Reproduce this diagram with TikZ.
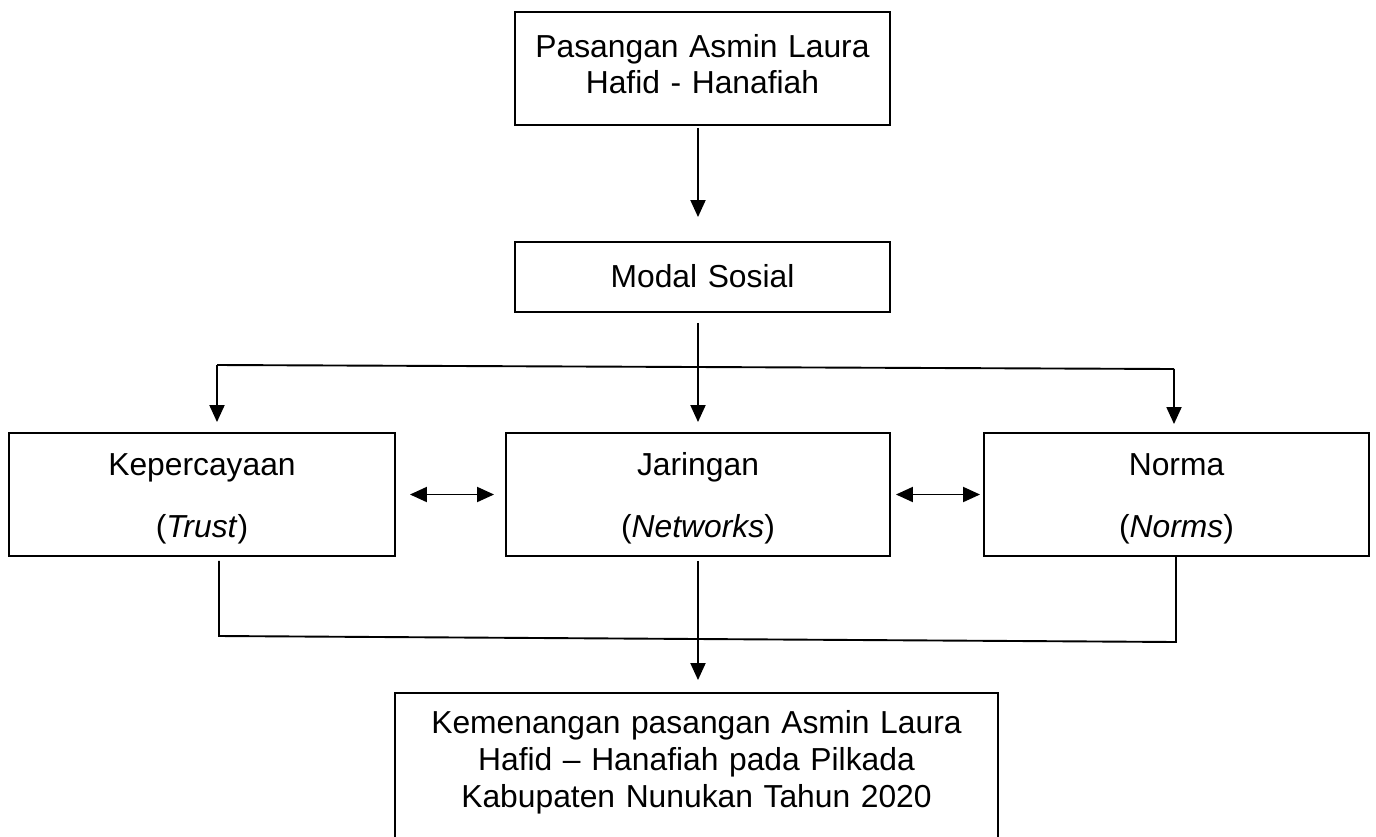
\documentclass[tikz,border=0pt]{standalone}
\usepackage{fontspec}
\setmainfont{Liberation Sans}
\usetikzlibrary{arrows.meta,calc}
\begin{document}
\begin{tikzpicture}[x=1pt,y=-1pt,
  every node/.style={font=\fontsize{31.8}{37}\selectfont},
  box/.style={draw, line width=1.9pt, inner sep=0pt, align=center},
  conn/.style={line width=1.9pt},
  arr/.style={line width=1.9pt, -{Triangle[length=17pt,width=15pt]}},
  dbl/.style={line width=1.9pt, {Triangle[length=17pt,width=15pt]}-{Triangle[length=17pt,width=15pt]}}]
\path[use as bounding box, clip] (0,0) rectangle (1376,836);
\fill[white] (0,0) rectangle (1376,836);

\node[box, text width=375pt, text height=45pt, text depth=68pt] (top) at (702.5,68.5)
  {Pasangan Asmin Laura\\[-1pt]Hafid - Hanafiah};
\node[box, text width=375pt, text height=45pt, text depth=25pt] (modal) at (702.5,277)
  {Modal Sosial};
\node[box, text width=386pt, text height=42pt, text depth=81pt] (K) at (202,494.5)
  {Kepercayaan\\[25pt](\textit{Trust})};
\node[box, text width=384pt, text height=42pt, text depth=81pt] (J) at (698,494.5)
  {Jaringan\\[25pt](\textit{Networks})};
\node[box, text width=385pt, text height=42pt, text depth=81pt] (N) at (1176.5,494.5)
  {Norma\\[25pt](\textit{Norms})};
\node[box, text width=603pt, text height=40pt, text depth=117pt] (final) at (696.5,771.5)
  {Kemenangan pasangan Asmin Laura\\Hafid -- Hanafiah pada Pilkada\\Kabupaten Nunukan Tahun 2020};

\draw[arr, shorten <=2pt, shorten >=24pt] (top.south -| J) -- (modal.north -| J);
\draw[arr, shorten <=10pt, shorten >=10pt] (modal.south -| J) -- (J.north);

\coordinate (sL) at (217,365);
\coordinate (sR) at (1174,369);
\draw[conn] (sL) -- (sR);
\draw[arr, shorten >=10pt] (sL) -- (sL |- K.north);
\draw[arr, shorten >=8pt] (sR) -- (sR |- N.north);

\draw[dbl] ([xshift=14pt]K.east) -- ([xshift=-11pt]J.west);
\draw[dbl] ([xshift=5pt]J.east) -- ([xshift=-3pt]N.west);

\coordinate (bL) at (219,636);
\coordinate (bR) at (1176,642);
\draw[conn, shorten <=4pt] (bL |- K.south) -- (bL) -- (bR) -- (bR |- N.south);
\draw[arr, shorten <=4pt, shorten >=12pt] (J.south) -- (final.north -| J);
\end{tikzpicture}
\end{document}
